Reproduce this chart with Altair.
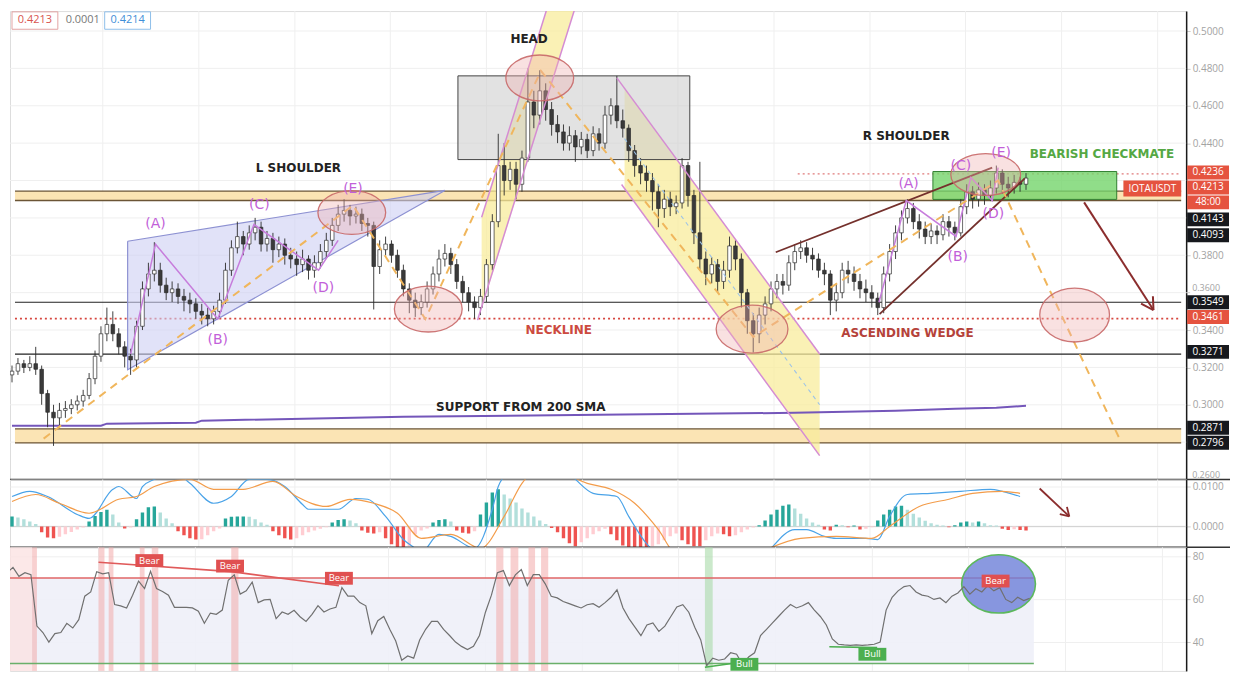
import altair as alt
import pandas as pd

# ---------------- price data (one value per 4h candle) ----------------
CLOSE = [0.318,0.322,0.320,0.322,0.319,0.306,0.296,0.293,0.297,0.298,
         0.300,0.302,0.305,0.314,0.326,0.338,0.343,0.338,0.331,0.326,
         0.324,0.342,0.362,0.370,0.372,0.364,0.360,0.362,0.358,0.356,
         0.354,0.350,0.348,0.346,0.350,0.356,0.372,0.384,0.390,0.386,
         0.392,0.395,0.386,0.389,0.383,0.386,0.380,0.378,0.375,0.378,
         0.372,0.376,0.382,0.388,0.396,0.402,0.404,0.401,0.402,0.397,
         0.396,0.374,0.383,0.386,0.380,0.372,0.362,0.356,0.352,0.355,
         0.362,0.370,0.378,0.381,0.375,0.366,0.360,0.355,0.352,0.358,
         0.375,0.398,0.428,0.420,0.426,0.418,0.432,0.462,0.455,0.468,
         0.458,0.450,0.446,0.440,0.444,0.438,0.442,0.436,0.445,0.440,
         0.455,0.460,0.452,0.448,0.436,0.428,0.424,0.420,0.414,0.405,
         0.410,0.406,0.408,0.428,0.412,0.392,0.378,0.370,0.375,0.366,
         0.372,0.385,0.378,0.360,0.345,0.338,0.348,0.354,0.362,0.366,
         0.364,0.376,0.382,0.384,0.380,0.378,0.372,0.370,0.356,0.360,
         0.372,0.370,0.366,0.362,0.360,0.357,0.352,0.370,0.382,0.392,
         0.400,0.405,0.398,0.394,0.390,0.393,0.391,0.398,0.395,0.392,
         0.406,0.414,0.410,0.415,0.412,0.416,0.424,0.418,0.416,0.419,
         0.418,0.4213]
HIGH = [0.321,0.325,0.324,0.326,0.331,0.321,0.308,0.300,0.301,0.302,
        0.303,0.305,0.308,0.317,0.329,0.342,0.352,0.350,0.341,0.334,
        0.330,0.345,0.366,0.376,0.387,0.376,0.368,0.366,0.365,0.362,
        0.360,0.357,0.354,0.352,0.353,0.360,0.376,0.388,0.398,0.393,
        0.396,0.400,0.398,0.393,0.392,0.390,0.389,0.384,0.382,0.383,
        0.380,0.380,0.386,0.392,0.400,0.407,0.410,0.407,0.406,0.405,
        0.400,0.398,0.388,0.390,0.388,0.383,0.375,0.365,0.360,0.359,
        0.366,0.374,0.383,0.386,0.384,0.378,0.369,0.363,0.358,0.362,
        0.378,0.402,0.445,0.440,0.430,0.430,0.436,0.480,0.468,0.479,
        0.472,0.462,0.455,0.450,0.449,0.447,0.446,0.445,0.449,0.448,
        0.460,0.464,0.476,0.458,0.450,0.439,0.432,0.428,0.424,0.418,
        0.415,0.414,0.412,0.432,0.430,0.415,0.430,0.382,0.379,0.378,
        0.377,0.390,0.388,0.381,0.362,0.349,0.352,0.358,0.366,0.370,
        0.370,0.380,0.386,0.388,0.387,0.384,0.381,0.376,0.372,0.365,
        0.376,0.377,0.374,0.370,0.367,0.364,0.360,0.374,0.386,0.396,
        0.404,0.410,0.408,0.402,0.398,0.397,0.396,0.402,0.401,0.398,
        0.410,0.418,0.417,0.419,0.418,0.420,0.428,0.426,0.422,0.423,
        0.422,0.424]
LOW = [0.312,0.316,0.317,0.318,0.316,0.300,0.288,0.278,0.289,0.293,
       0.295,0.297,0.299,0.303,0.311,0.323,0.334,0.334,0.327,0.320,
       0.316,0.320,0.340,0.358,0.366,0.360,0.356,0.355,0.354,0.350,
       0.349,0.346,0.343,0.342,0.343,0.347,0.354,0.369,0.381,0.380,
       0.383,0.388,0.382,0.382,0.376,0.379,0.375,0.373,0.369,0.371,
       0.367,0.368,0.373,0.378,0.385,0.393,0.398,0.396,0.397,0.393,
       0.390,0.351,0.370,0.380,0.376,0.368,0.358,0.349,0.347,0.348,
       0.352,0.359,0.366,0.374,0.370,0.362,0.355,0.350,0.346,0.348,
       0.355,0.372,0.395,0.412,0.415,0.410,0.414,0.430,0.448,0.450,
       0.452,0.444,0.440,0.436,0.436,0.430,0.434,0.432,0.433,0.436,
       0.437,0.450,0.448,0.443,0.430,0.422,0.418,0.414,0.404,0.395,
       0.400,0.401,0.402,0.405,0.406,0.386,0.372,0.364,0.365,0.360,
       0.362,0.368,0.372,0.352,0.338,0.328,0.333,0.343,0.350,0.357,
       0.359,0.361,0.372,0.378,0.376,0.372,0.368,0.364,0.348,0.350,
       0.357,0.365,0.361,0.357,0.355,0.352,0.348,0.349,0.366,0.378,
       0.388,0.397,0.394,0.389,0.386,0.386,0.386,0.388,0.390,0.388,
       0.390,0.402,0.405,0.406,0.407,0.409,0.413,0.413,0.411,0.413,
       0.414,0.415]
FIRST_OPEN = 0.316

# 200 SMA (candle index, value)
SMA_I = [0, 15, 16, 31, 32, 66, 99, 132, 149, 159, 166, 171]
SMA_V = [0.2888, 0.2888, 0.2899, 0.2904, 0.2915, 0.2936, 0.2947, 0.2957, 0.2968, 0.2979, 0.2984, 0.2995]

# ---------------- MACD ----------------
HIST = [0.0025,0.0022,0.0018,0.0012,0.0006,-0.0015,-0.0028,-0.0030,-0.0026,-0.0020,
        -0.0014,-0.0008,-0.0003,0.0012,0.0026,0.0036,0.0042,0.0030,0.0010,-0.0005,
        -0.0003,0.0018,0.0035,0.0048,0.0050,0.0035,0.0020,0.0008,-0.0012,-0.0022,
        -0.0030,-0.0033,-0.0032,-0.0022,-0.0012,-0.0005,0.0020,0.0024,0.0025,0.0025,
        0.0024,0.0018,0.0010,0.0004,-0.0012,-0.0022,-0.0030,-0.0033,-0.0030,-0.0022,
        -0.0015,-0.0010,-0.0006,-0.0002,0.0010,0.0016,0.0018,0.0015,0.0008,-0.0010,
        -0.0016,-0.0018,-0.0015,-0.0030,-0.0045,-0.0055,-0.0055,-0.0050,-0.0020,-0.0010,
        -0.0005,0.0010,0.0016,0.0018,0.0012,-0.0010,-0.0016,-0.0018,-0.0012,0.0030,
        0.0060,0.0085,0.0093,0.0080,0.0070,0.0060,0.0045,0.0035,0.0025,0.0015,
        0.0006,-0.0004,-0.0015,-0.0030,-0.0042,-0.0050,-0.0040,-0.0030,-0.0020,-0.0012,
        -0.0006,-0.0020,-0.0035,-0.0048,-0.0055,-0.0055,-0.0055,-0.0055,-0.0050,-0.0045,
        -0.0035,-0.0025,-0.0018,-0.0035,-0.0045,-0.0050,-0.0050,-0.0035,-0.0025,-0.0018,
        -0.0020,-0.0025,-0.0022,-0.0015,-0.0008,-0.0003,0.0003,0.0015,0.0030,0.0042,
        0.0052,0.0055,0.0045,0.0032,0.0020,0.0010,0.0004,-0.0008,-0.0010,0.0004,
        0.0003,-0.0002,0.0002,-0.0008,-0.0006,-0.0002,0.0015,0.0030,0.0042,0.0050,
        0.0052,0.0042,0.0032,0.0022,0.0014,0.0008,0.0004,0.0002,-0.0002,0.0003,
        0.0010,0.0012,0.0010,0.0012,0.0008,0.0003,0.0002,-0.0006,-0.0009,-0.0007,
        -0.0009,-0.0010]
MACD_I = [0,3,6,11,13,17,18,21,22,24,27,30,34,37,40,43,46,49,50,55,58,60,63,66,68,69,72,74,78,81,
          82,84,88,92,95,98,102,104,107,109,115,125,132,134,137,139,144,146,148,151,155,160,165,167,170]
MACD_V = [0.0075,0.0088,0.0075,0.0030,0.0020,0.0093,0.0100,0.0070,0.0100,0.0118,
          0.0140,0.0108,0.0058,0.0075,0.0118,0.0118,0.0100,0.0055,0.0043,0.0043,
          0.0070,0.0068,0.0025,-0.0033,-0.0055,-0.0065,-0.0020,-0.0025,-0.0055,0.0043,
          0.0100,0.0140,0.0170,0.0160,0.0118,0.0083,0.0075,0.0025,-0.0043,-0.0070,
          -0.0100,-0.0090,-0.0008,-0.0008,-0.0025,-0.0030,-0.0030,-0.0033,0.0025,0.0080,
          0.0083,0.0088,0.0093,0.0088,0.0075]
SIG_I = [0,4,8,13,18,21,24,30,34,39,44,48,53,57,61,65,69,74,79,83,
         86,90,97,101,105,109,112,120,133,139,145,148,153,158,162,167,170]
SIG_V = [0.00625,0.0080,0.0058,0.0033,0.0068,0.0075,0.0100,0.0118,0.0093,0.0093,
         0.0113,0.0075,0.0050,0.0068,0.0058,0.0033,-0.0030,-0.0020,-0.0055,0.0025,
         0.0108,0.0150,0.0108,0.0093,0.0058,-0.0008,-0.0070,-0.0090,-0.0030,-0.0025,
         -0.0030,0.0000,0.0050,0.0068,0.0083,0.0088,0.0083]

# ---------------- RSI ----------------
RSI = [72.5,75.0,70.8,72.5,71.6,47.5,44.5,40.0,44.0,44.5,
       48.8,46.6,50.5,61.5,63.5,73.0,72.0,72.5,57.6,57.0,
       56.0,62.0,68.6,65.1,73.2,65.1,63.7,62.0,56.3,56.3,
       56.3,56.0,54.5,48.8,53.6,53.0,55.0,69.0,71.5,62.5,
       64.0,68.1,58.5,59.8,60.0,51.0,54.1,53.0,54.9,51.9,
       49.7,53.0,57.1,54.1,55.5,56.3,65.5,61.5,61.5,58.5,
       57.0,44.0,50.0,52.0,46.0,40.5,31.5,33.5,32.5,41.0,
       46.0,49.7,49.7,46.0,43.1,40.0,38.0,36.5,38.0,43.1,
       54.0,62.0,72.5,73.5,66.5,71.5,74.0,66.5,71.6,71.6,
       67.3,61.5,60.7,59.0,58.0,57.0,56.0,57.5,58.0,56.3,
       58.5,61.0,64.5,56.0,51.0,47.0,43.0,48.0,49.0,45.0,
       47.5,52.0,56.5,57.5,54.0,47.0,41.0,29.0,32.5,31.5,
       32.1,35.0,34.3,29.5,33.0,35.0,43.1,46.0,49.0,52.0,
       55.0,57.6,56.0,57.0,58.5,55.0,52.0,48.0,41.5,39.0,
       38.7,38.5,38.7,38.5,38.7,39.0,40.0,55.0,61.0,64.0,
       66.0,66.5,63.5,62.0,61.5,60.0,60.7,58.5,61.5,63.0,
       66.0,62.5,65.0,63.5,66.5,64.0,65.5,60.0,58.5,61.0,
       59.5,60.5]
RSI_UPPER, RSI_LOWER = 70, 30
BEAR_BANDS = [(4.2, 5.0), (15.3, 16.3), (17.0, 17.8), (22.2, 23.0), (24.2, 25.3), (37.5, 38.7),
              (81.8, 83.0), (84.2, 85.5), (87.2, 88.3), (89.3, 90.5)]
BULL_BANDS = [(116.7, 118.0)]

# ---------------- levels and labels ----------------
PRICE_GRID = [0.26, 0.28, 0.30, 0.32, 0.34, 0.36, 0.38, 0.40, 0.42, 0.44, 0.46, 0.48, 0.50]
PRICE_LABELS = [0.30, 0.32, 0.34, 0.38, 0.44, 0.46, 0.48, 0.50]
# axis labels that sit half-hidden next to the coloured price tags
LOOSE_LABELS = ["0.3600", "0.2600"]
LOOSE_AT = [0.3624, 0.2622]
BAND_UP = (0.4093, 0.4143)
BAND_DN = (0.2796, 0.2871)
BLACK_LEVELS = [0.3549, 0.3271]
NECKLINE = 0.3461
RESIST_DOT = 0.4236
RLAB_TEXT = ["0.4236", "0.4213", "48:00", "0.4143", "0.4093", "0.3549", "0.3461", "0.3271", "0.2871", "0.2796"]
RLAB_AT = [0.4243, 0.4163, 0.4083, 0.3992, 0.3907, 0.3549, 0.3470, 0.3283, 0.2877, 0.2797]
RLAB_RED = [True, True, True, False, False, False, True, False, False, False]
GRID_I = [15.3, 31.5, 47.7, 63.8, 80.0, 96.2, 112.3, 128.5, 144.7, 160.8, 177.0, 193.2]

# ---------------- layout ----------------
W, H1, H2, H3 = 1180, 470, 68, 124
XDOM = [0.5, 197.1667]
XS = alt.Scale(domain=XDOM, nice=False, zero=False)
PS = alt.Scale(domain=[0.26, 0.510667], nice=False, zero=False)
MS = alt.Scale(domain=[-0.00525, 0.01175], nice=False, zero=False)
RS = alt.Scale(domain=[26.5, 84.4], nice=False, zero=False)
FONT = "DejaVu Sans"
RED_LAB, DARK_LAB = "#e5533f", "#16181d"
LAB_X = W + 22


def xq(f):
    return alt.X(f + ":Q", scale=XS, axis=None)


def mk_axis(values, fmt, grid=True):
    return alt.Axis(orient="right", values=values, format=fmt, title=None, grid=grid,
                    gridColor="#efefef", domainColor="#1a1a1a", domainWidth=1.5,
                    tickColor="#cccccc", tickSize=4, labelColor="#a3a3a3",
                    labelFontSize=10, labelFont="Open Sans", labelPadding=2)


def yp(f):
    return alt.Y(f + ":Q", scale=PS, axis=mk_axis(PRICE_LABELS, ".4f", grid=False))


def ym(f):
    return alt.Y(f + ":Q", scale=MS, axis=mk_axis([0.0, 0.01], ".4f"))


def yr(f):
    return alt.Y(f + ":Q", scale=RS, axis=mk_axis([40, 60, 80], "d"))


def segs(d):
    rows = []
    for name, pts in d.items():
        for k, (i, p) in enumerate(pts):
            rows.append({"seg": name, "k": k, "i": i, "p": p})
    return pd.DataFrame(rows)


def lines(d, yf, **mk):
    return alt.Chart(segs(d)).mark_line(clip=True, **mk).encode(
        x=xq("i"), y=yf("p"), detail="seg:N", order="k:Q")


def ell(k):
    return f"M-1,0A1,{k},0,1,1,1,0A1,{k},0,1,1,-1,0Z"


def rect_shape(h):
    return f"M-1,-{h}H1V{h}H-1Z"


one = pd.DataFrame({"a": [0]})

# ======================= PRICE PANEL =======================
n = min(len(CLOSE), len(HIGH), len(LOW))
opens = [FIRST_OPEN] + CLOSE[:-1]
cdf = pd.DataFrame({"i": list(range(n)), "o": opens[:n], "c": CLOSE[:n], "h": HIGH[:n], "l": LOW[:n]})
cdf["fc"] = ["#ffffff" if c >= o else "#3a3a3a" for o, c in zip(cdf["o"], cdf["c"])]

vgrid = alt.Chart(pd.DataFrame({"gx": GRID_I})).mark_rule(color="#efefef").encode(x=xq("gx"))
hgrid = alt.Chart(pd.DataFrame({"p": PRICE_GRID})).mark_rule(color="#efefef").encode(y=yp("p"))
pticks = alt.Chart(pd.DataFrame({"p": [0.36, 0.26]})).mark_rule(color="#cccccc").encode(
    x=alt.value(W), x2=alt.value(W + 4), y=yp("p"))

band_df = pd.DataFrame({"x0": [XDOM[0]] * 2, "x1": [XDOM[1]] * 2,
                        "lo": [BAND_UP[0], BAND_DN[0]], "hi": [BAND_UP[1], BAND_DN[1]]})
bands = alt.Chart(band_df).mark_rect(color="#fbe3b0", opacity=0.95).encode(
    x=xq("x0"), x2="x1", y=yp("lo"), y2="hi")
edge_df = pd.DataFrame({"x0": [XDOM[0]] * 4, "x1": [XDOM[1]] * 4, "p": list(BAND_UP) + list(BAND_DN)})
band_edges = alt.Chart(edge_df).mark_rule(color="#6b5536", strokeWidth=1.3).encode(
    x=xq("x0"), x2="x1", y=yp("p"))
blk_df = pd.DataFrame({"x0": [XDOM[0]] * 2, "x1": [XDOM[1]] * 2, "p": BLACK_LEVELS})
blk = alt.Chart(blk_df).mark_rule(color="#222222", strokeWidth=1.1).encode(x=xq("x0"), x2="x1", y=yp("p"))
neck = alt.Chart(pd.DataFrame({"x0": [XDOM[0]], "x1": [XDOM[1]], "p": [NECKLINE]})).mark_rule(
    color="#d6463f", strokeWidth=1.6, strokeDash=[2, 3]).encode(x=xq("x0"), x2="x1", y=yp("p"))
resist = alt.Chart(pd.DataFrame({"x0": [132.5], "x1": [XDOM[1]], "p": [RESIST_DOT]})).mark_rule(
    color="#e07a7a", strokeWidth=1.3, strokeDash=[2, 3]).encode(x=xq("x0"), x2="x1", y=yp("p"))

tri = alt.Chart(pd.DataFrame({"i": [19.5, 73.0], "top": [0.3875, 0.4147], "bot": [0.3187, 0.4147]})).mark_area(
    color="#cdcff3", opacity=0.6).encode(x=xq("i"), y=yp("top"), y2="bot")
tri_edge = lines({"t": [(19.5, 0.3875), (73.0, 0.4147), (19.5, 0.3187), (19.5, 0.3875)]}, yp,
                 color="#8d91d2", strokeWidth=1.2)

yel_up = alt.Chart(pd.DataFrame({"p": [0.3523, 0.4003, 0.5149], "xa": [79.2, 79.2, 90.5],
                                 "xb": [79.3, 84.0, 95.2]})).mark_area(
    orient="horizontal", color="#f8ec9c", opacity=0.75, clip=True).encode(y=yp("p"), x=xq("xa"), x2="xb")
yel_dn = alt.Chart(pd.DataFrame({"i": [103.3, 136.2], "top": [0.4692, 0.3272], "bot": [0.4157, 0.2728]})).mark_area(
    color="#f8ec9c", opacity=0.75, clip=True).encode(x=xq("i"), y=yp("top"), y2="bot")

grey_box = alt.Chart(pd.DataFrame({"x0": [75.2], "x1": [114.3], "lo": [0.4312], "hi": [0.4760]})).mark_rect(
    fill="#cfcfcf", fillOpacity=0.6, stroke="#444444", strokeWidth=1).encode(
    x=xq("x0"), x2="x1", y=yp("lo"), y2="hi")
green_box = alt.Chart(pd.DataFrame({"x0": [155.3], "x1": [186.3], "lo": [0.4099], "hi": [0.4248]})).mark_rect(
    fill="#74d46c", fillOpacity=0.8, stroke="#2f7d2f", strokeWidth=1).encode(
    x=xq("x0"), x2="x1", y=yp("lo"), y2="hi")

sma = alt.Chart(pd.DataFrame({"i": SMA_I, "p": SMA_V})).mark_line(
    color="#7456ba", strokeWidth=2, clip=True).encode(x=xq("i"), y=yp("p"))

wick = alt.Chart(cdf).mark_rule(color="#2b2b2b", strokeWidth=0.9, clip=True).encode(
    x=xq("i"), y=yp("l"), y2="h")
body = alt.Chart(cdf).mark_bar(size=3.6, stroke="#2b2b2b", strokeWidth=0.7, clip=True).encode(
    x=xq("i"), y=yp("o"), y2="c", color=alt.Color("fc:N", scale=None))

pink = lines({"chL": [(79.2, 0.4003), (90.5, 0.5149)], "chR": [(78.5, 0.3453), (95.2, 0.5149)],
              "dU": [(102.0, 0.4749), (136.2, 0.3272)], "dL": [(102.8, 0.4179), (136.2, 0.2728)]},
             yp, color="#d58cd3", strokeWidth=1.5)
blue_dash = lines({"c": [(103.3, 0.4424), (136.2, 0.3000)]}, yp, color="#9cc3e8", strokeWidth=1.1,
                  strokeDash=[4, 4])
wedge = lines({"up": [(128.8, 0.3816), (165.3, 0.4269)], "dn": [(146.3, 0.3485), (170.8, 0.4211)]},
              yp, color="#74302c", strokeWidth=1.8)
zig = lines({"L": [(20.0, 0.3272), (24.2, 0.3859), (34.7, 0.3459), (40.8, 0.3965), (51.7, 0.3720), (55.0, 0.3880)],
             "R": [(146.2, 0.3549), (150.8, 0.4093), (159.2, 0.3901), (161.7, 0.4216), (165.3, 0.4093),
                   (166.3, 0.4269)]},
            yp, color="#c77ddc", strokeWidth=1.5)
dashed = lines({"d": [(5.33, 0.2819), (57.5, 0.4067), (69.7, 0.3459), (89.2, 0.4787), (125.0, 0.3363),
                      (166.3, 0.4200), (187.0, 0.2803)]},
               yp, color="#f0b65c", strokeWidth=2, strokeDash=[8, 6])

ELL_I = [57.3, 70.2, 89.0, 124.8, 164.2, 179.2]
ELL_P = [0.4029, 0.3512, 0.4749, 0.3405, 0.4232, 0.3480]
ELL_RX = [34, 34, 34, 36, 35, 35]
ELL_RY = [22, 23, 23, 24, 21, 27]
edf = pd.DataFrame({"i": ELL_I, "p": ELL_P})
edf["sz"] = [(2 * rx) ** 2 for rx in ELL_RX]
edf["shp"] = [ell(round(ry / rx, 3)) for rx, ry in zip(ELL_RX, ELL_RY)]
ellipses = alt.Chart(edf).mark_point(filled=True, fill="#eeb0b0", fillOpacity=0.38, stroke="#c86868",
                                     strokeWidth=1.3, strokeOpacity=0.9, opacity=1).encode(
    x=xq("i"), y=yp("p"), size=alt.Size("sz:Q", scale=None), shape=alt.Shape("shp:N", scale=None))

TXT = ["HEAD", "L SHOULDER", "R SHOULDER", "BEARISH CHECKMATE", "NECKLINE", "ASCENDING WEDGE",
       "SUPPORT FROM 200 SMA"]
TXT_I = [87.2, 48.3, 150.8, 183.8, 92.2, 151.0, 85.8]
TXT_P = [0.4955, 0.4269, 0.4440, 0.4344, 0.3400, 0.3384, 0.2989]
TXT_C = ["#222222", "#222222", "#222222", "#55a844", "#cc4a40", "#b5423a", "#222222"]
tdf = pd.DataFrame({"t": TXT, "i": TXT_I, "p": TXT_P, "col": TXT_C})
texts = alt.Chart(tdf).mark_text(font=FONT, fontWeight="bold", fontSize=12).encode(
    x=xq("i"), y=yp("p"), text="t:N", color=alt.Color("col:N", scale=None))

LET = ["(A)", "(B)", "(C)", "(D)", "(E)", "(A)", "(B)", "(C)", "(D)", "(E)"]
LET_I = [24.2, 34.7, 41.7, 52.5, 57.5, 151.2, 159.5, 160.0, 165.5, 166.8]
LET_P = [0.3965, 0.3347, 0.4067, 0.3624, 0.4157, 0.4179, 0.3789, 0.4280, 0.4019, 0.4349]
letters = alt.Chart(pd.DataFrame({"t": LET, "i": LET_I, "p": LET_P})).mark_text(
    font=FONT, fontSize=14, color="#c25fd9").encode(x=xq("i"), y=yp("p"), text="t:N")

arrow = lines({"s": [(180.8, 0.4083), (192.5, 0.3507)], "h1": [(192.4, 0.3581), (192.5, 0.3507)],
               "h2": [(190.4, 0.3541), (192.5, 0.3507)]}, yp, color="#8b2d2d", strokeWidth=2)

iota_df = pd.DataFrame({"i": [192.3], "p": [0.4157], "t": ["IOTAUSDT"]})
iota_bg = alt.Chart(iota_df).mark_point(shape=rect_shape(0.276), size=58 ** 2, filled=True,
                                        color="#e5533f", opacity=1, strokeWidth=0).encode(x=xq("i"), y=yp("p"))
iota_tx = alt.Chart(iota_df).mark_text(color="white", fontSize=10, font="Open Sans").encode(
    x=xq("i"), y=yp("p"), text="t:N")

rl = pd.DataFrame({"t": RLAB_TEXT, "p": RLAB_AT, "col": [RED_LAB if r else DARK_LAB for r in RLAB_RED]})
rlab_bg = alt.Chart(rl).mark_point(shape=rect_shape(0.333), size=42 ** 2, filled=True, opacity=1,
                                   strokeWidth=0).encode(
    x=alt.value(LAB_X), y=yp("p"), color=alt.Color("col:N", scale=None))
rlab_tx = alt.Chart(rl).mark_text(color="white", fontSize=10, font="Open Sans").encode(
    x=alt.value(LAB_X), y=yp("p"), text="t:N")
loose = alt.Chart(pd.DataFrame({"t": LOOSE_LABELS, "p": LOOSE_AT})).mark_text(
    color="#a3a3a3", fontSize=9, font="Open Sans", align="left").encode(
    x=alt.value(W + 6), y=yp("p"), text="t:N")

leg_df = pd.DataFrame({"t": ["0.4213", "0.0001", "0.4214"], "xp": [25, 73, 118],
                       "col": ["#d9534f", "#777777", "#3f8fd8"]})
leg_tx = alt.Chart(leg_df).mark_text(fontSize=11, font="Open Sans").encode(
    x=alt.X("xp:Q", scale=None), y=alt.value(9), text="t:N", color=alt.Color("col:N", scale=None))
box_df = pd.DataFrame({"xp": [25, 118], "col": ["#e2a4a4", "#8fbfea"]})
leg_box = alt.Chart(box_df).mark_point(shape=rect_shape(0.38), size=46 ** 2, filled=False, strokeWidth=1,
                                       opacity=1).encode(
    x=alt.X("xp:Q", scale=None), y=alt.value(9.5), color=alt.Color("col:N", scale=None))

sep1 = alt.Chart(one).mark_rule(color="#333333", strokeWidth=1.5).encode(
    x=alt.value(0), x2=alt.value(W + 44), y=alt.value(H1))

price = alt.layer(
    hgrid, vgrid, bands, band_edges, blk, neck, resist, tri, yel_up, yel_dn, grey_box, green_box, tri_edge,
    sma, wick, body, pink, blue_dash, wedge, zig, dashed, ellipses, texts, letters, arrow,
    iota_bg, iota_tx, pticks, loose, rlab_bg, rlab_tx, leg_box, leg_tx, sep1
).properties(width=W, height=H1)

# ======================= MACD PANEL =======================
nh = len(HIST)
hcol = []
for k in range(nh):
    h = HIST[k]
    prev = HIST[k - 1] if k > 0 else h
    if h >= 0:
        hcol.append("#26a69a" if h >= prev else "#b2dfdb")
    else:
        hcol.append("#ef5350" if h <= prev else "#ffcdd2")
hdf = pd.DataFrame({"i": list(range(nh)), "h": HIST, "z": [0.0] * nh, "col": hcol})
hist = alt.Chart(hdf).mark_bar(size=3.4, clip=True).encode(
    x=xq("i"), y=ym("h"), y2="z", color=alt.Color("col:N", scale=None))
zero = alt.Chart(pd.DataFrame({"p": [0.0]})).mark_rule(color="#d0d0d0").encode(y=ym("p"))
macd_line = alt.Chart(pd.DataFrame({"i": MACD_I, "p": MACD_V})).mark_line(
    color="#4aa3e8", strokeWidth=1.2, clip=True, interpolate="monotone").encode(x=xq("i"), y=ym("p"))
sig_line = alt.Chart(pd.DataFrame({"i": SIG_I, "p": SIG_V})).mark_line(
    color="#f39c4a", strokeWidth=1.2, clip=True, interpolate="monotone").encode(x=xq("i"), y=ym("p"))
m_arrow = lines({"s": [(173.3, 0.0095), (178.3, 0.0025)], "h1": [(177.9, 0.0049), (178.3, 0.0025)],
                 "h2": [(176.7, 0.0031), (178.3, 0.0025)]}, ym, color="#8b2d2d", strokeWidth=1.8)
sep2 = alt.Chart(one).mark_rule(color="#333333", strokeWidth=1.5).encode(
    x=alt.value(0), x2=alt.value(W + 44), y=alt.value(H2))
macd = alt.layer(vgrid, zero, hist, macd_line, sig_line, m_arrow, sep2).properties(width=W, height=H2)

# ======================= RSI PANEL =======================
rdf = pd.DataFrame({"i": list(range(len(RSI))), "p": RSI})
rsi_bg = alt.Chart(pd.DataFrame({"x0": [XDOM[0]], "x1": [171.7], "lo": [RSI_LOWER], "hi": [RSI_UPPER]})).mark_rect(
    color="#eef0f8", opacity=0.9).encode(x=xq("x0"), x2="x1", y=yr("lo"), y2="hi")
left_pink = alt.Chart(pd.DataFrame({"x0": [XDOM[0]], "x1": [4.2]})).mark_rect(
    color="#fbe2e2", opacity=0.8).encode(x=xq("x0"), x2="x1", y=alt.value(0), y2=alt.value(H3))
bear_df = pd.DataFrame({"x0": [a for a, b in BEAR_BANDS], "x1": [b for a, b in BEAR_BANDS]})
bear_bands = alt.Chart(bear_df).mark_rect(color="#f2a9a9", opacity=0.55).encode(
    x=xq("x0"), x2="x1", y=alt.value(0), y2=alt.value(H3))
bull_df = pd.DataFrame({"x0": [a for a, b in BULL_BANDS], "x1": [b for a, b in BULL_BANDS]})
bull_bands = alt.Chart(bull_df).mark_rect(color="#a8dba8", opacity=0.6).encode(
    x=xq("x0"), x2="x1", y=alt.value(0), y2=alt.value(H3))
r70 = alt.Chart(pd.DataFrame({"x0": [XDOM[0]], "x1": [171.7], "p": [RSI_UPPER]})).mark_rule(
    color="#e06666", strokeWidth=1.6).encode(x=xq("x0"), x2="x1", y=yr("p"))
r30 = alt.Chart(pd.DataFrame({"x0": [XDOM[0]], "x1": [171.7], "p": [RSI_LOWER]})).mark_rule(
    color="#6ab06a", strokeWidth=1.6).encode(x=xq("x0"), x2="x1", y=yr("p"))
div_red = lines({"b": [(15.3, 77.4), (37.5, 73.0), (55.5, 66.4)]}, yr, color="#e05a5a", strokeWidth=1.6)
div_green = lines({"g1": [(116.7, 28.2), (123.3, 30.8)], "g2": [(137.5, 37.8), (145.5, 37.4)]}, yr,
                  color="#4caf50", strokeWidth=1.6)
blue_ell = alt.Chart(pd.DataFrame({"i": [165.8], "p": [67.25]})).mark_point(
    shape=ell(0.79), size=74 ** 2, filled=True, fill="#6d7fd8", fillOpacity=0.8, stroke="#5cb85c",
    strokeWidth=1.6, opacity=1).encode(x=xq("i"), y=yr("p"))
rsi_line = alt.Chart(rdf).mark_line(color="#707070", strokeWidth=1.2, clip=True).encode(x=xq("i"), y=yr("p"))
SIG_T = ["Bear", "Bear", "Bear", "Bear", "Bull", "Bull"]
SIG_X = [23.8, 37.3, 55.5, 165.3, 123.3, 144.7]
SIG_Y = [78.2, 75.6, 69.9, 68.6, 29.6, 34.3]
sdf = pd.DataFrame({"t": SIG_T, "i": SIG_X, "p": SIG_Y,
                    "col": ["#e05050" if t == "Bear" else "#4caf50" for t in SIG_T]})
sig_bg = alt.Chart(sdf).mark_point(shape=rect_shape(0.46), size=28 ** 2, filled=True, opacity=1,
                                   strokeWidth=0).encode(
    x=xq("i"), y=yr("p"), color=alt.Color("col:N", scale=None))
sig_tx = alt.Chart(sdf).mark_text(color="white", fontSize=9.5, font="Open Sans").encode(
    x=xq("i"), y=yr("p"), text="t:N")
rsi = alt.layer(vgrid, rsi_bg, left_pink, bear_bands, bull_bands, r70, r30, blue_ell, rsi_line,
                div_red, div_green, sig_bg, sig_tx).properties(width=W, height=H3)

chart = alt.vconcat(price, macd, rsi, spacing=0, bounds="flush").properties(
    padding=0
).configure_view(stroke=None).configure(font="Open Sans", background="white")

chart.save("out.html", embed_options={"renderer": "svg", "actions": False})
